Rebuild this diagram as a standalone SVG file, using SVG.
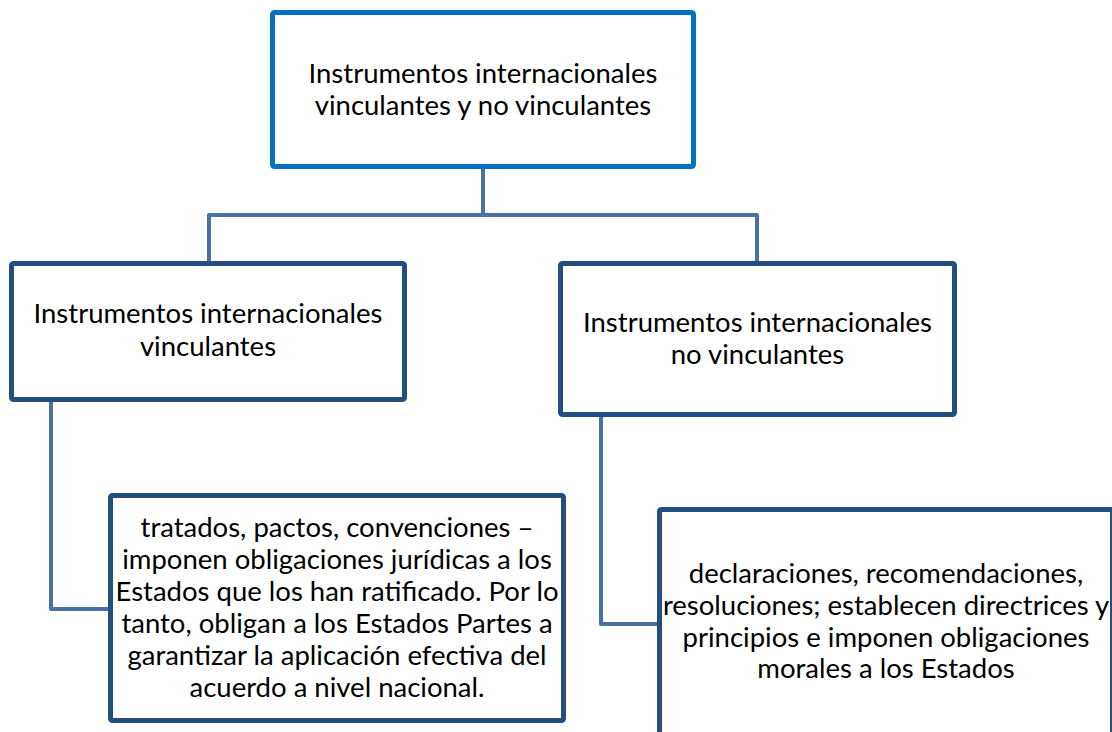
<svg xmlns="http://www.w3.org/2000/svg" width="1112" height="732" viewBox="0 0 1112 732">
<style>
.box{fill:#ffffff;stroke:#254e80;stroke-width:5;}
.top{stroke:#0070c0;}
.conn{fill:none;stroke:#4a70a4;stroke-width:4;stroke-linejoin:round;}
.t{font-family:Lato,"Open Sans","Liberation Sans",sans-serif;font-size:27.5px;fill:#000000;text-anchor:middle;}
</style>
<rect width="1112" height="732" fill="#ffffff"/>
<g id="connectors">
<path class="conn" d="M483 169 V215"/>
<path class="conn" d="M209 261 V215 H757 V261"/>
<path class="conn" d="M51 402 V609 H108"/>
<path class="conn" d="M601 417 V624 H657"/>
</g>
<g id="node-root">
<rect class="box top" x="272.5" y="12.5" width="421" height="154" rx="2"/>
<text class="t" x="483" y="83">Instrumentos internacionales</text>
<text class="t" x="483" y="115">vinculantes y no vinculantes</text>
</g>
<g id="node-vinculantes">
<rect class="box" x="11.5" y="263.5" width="393" height="136" rx="2"/>
<text class="t" x="208" y="323">Instrumentos internacionales</text>
<text class="t" x="208" y="356">vinculantes</text>
</g>
<g id="node-no-vinculantes">
<rect class="box" x="560.5" y="263.5" width="394" height="151" rx="2"/>
<text class="t" x="757.5" y="332">Instrumentos internacionales</text>
<text class="t" x="757.5" y="364">no vinculantes</text>
</g>
<g id="node-vinculantes-detalle">
<rect class="box" x="110.5" y="495.5" width="453" height="225" rx="2"/>
<text class="t" x="337" y="537">tratados, pactos, convenciones –</text>
<text class="t" x="337" y="569">imponen obligaciones jurídicas a los</text>
<text class="t" x="337" y="601">Estados que los han ratificado. Por lo</text>
<text class="t" x="337" y="633">tanto, obligan a los Estados Partes a</text>
<text class="t" x="337" y="665">garantizar la aplicación efectiva del</text>
<text class="t" x="337" y="697">acuerdo a nivel nacional.</text>
</g>
<g id="node-no-vinculantes-detalle">
<rect class="box" x="659.5" y="509.5" width="453" height="225" rx="2"/>
<text class="t" x="886" y="583">declaraciones, recomendaciones,</text>
<text class="t" x="886" y="615">resoluciones; establecen directrices y</text>
<text class="t" x="886" y="647">principios e imponen obligaciones</text>
<text class="t" x="886" y="678">morales a los Estados</text>
</g>
</svg>
